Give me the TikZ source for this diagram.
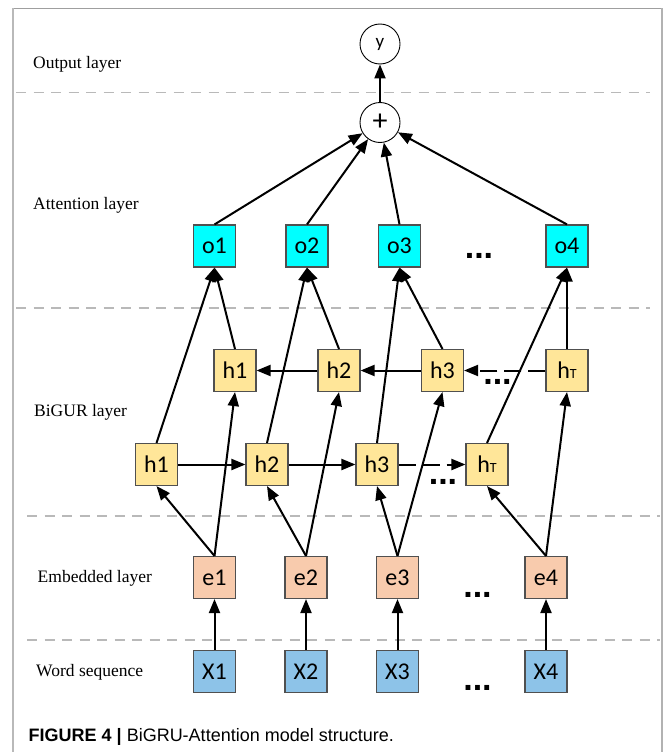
\documentclass[tikz,border=0pt]{standalone}
\usepackage{fontspec}
\setmainfont{Liberation Serif}
\newfontfamily\boxfont{Carlito}
\newfontfamily\capfont{Liberation Sans}
\usetikzlibrary{arrows.meta}
\definecolor{cyanbox}{RGB}{0,255,255}
\definecolor{hbox}{RGB}{255,230,153}
\definecolor{ebox}{RGB}{248,203,173}
\definecolor{xbox}{RGB}{141,195,232}
\definecolor{boxline}{RGB}{80,80,80}
\tikzset{
  cell/.style={draw=boxline, line width=1.1pt, minimum size=42pt, inner sep=0pt,
    font=\boxfont\fontsize{24}{24}\selectfont},
  ocell/.style={cell, fill=cyanbox},
  hcell/.style={cell, fill=hbox},
  ecell/.style={cell, fill=ebox},
  xcell/.style={cell, fill=xbox},
  opnode/.style={draw, circle, line width=0.9pt, minimum size=40pt, inner sep=0pt},
  conn/.style={line width=2pt, -{Triangle[length=14pt,width=11pt]}},
  dconn/.style={conn, dash pattern=on 17pt off 7pt},
  sep/.style={draw=gray!55, line width=1.3pt, dash pattern=on 10pt off 7.5pt},
  layerlabel/.style={anchor=west, inner sep=0pt, font=\fontsize{17.5}{18}\selectfont},
  dots/.style={anchor=base, inner sep=0pt, font=\capfont\bfseries\fontsize{34}{34}\selectfont}
}
\newcommand{\hTlabel}{h{\fontsize{14}{14}\selectfont T}}
\begin{document}
\begin{tikzpicture}[x=1pt,y=-1pt]
\useasboundingbox (0,0) rectangle (665,752);
% frame
\draw[gray!75, line width=1.4pt] (12.7,8.5) -- (662,8.5);
\draw[gray!55, line width=1.4pt] (13,8.5) -- (13,752);
\draw[gray!60, line width=1.4pt] (662,8.5) -- (662,752);
% separators
\draw[sep] (16,92.5) -- (650,92.5);
\draw[sep] (16,308) -- (650,308);
\draw[sep] (27,516) -- (660,516);
\draw[sep] (27,640) -- (660,640);
% layer labels
\node[layerlabel] (lout) at (33,64) {Output layer};
\node[layerlabel] (latt) at (33,205) {Attention layer};
\node[layerlabel] (lbig) at (34,412) {BiGUR layer};
\node[layerlabel] (lemb) at (37.5,578) {Embedded layer};
\node[layerlabel] (lword) at (36,672) {Word sequence};
% circles
\node[opnode, font=\boxfont\fontsize{19}{19}\selectfont] (yout) at (380,44) {y};
\node[opnode, font=\boxfont\fontsize{30}{30}\selectfont] (plus) at (380,122.5) {+};
% attention
\node[ocell] (o1) at (214.5,246) {o1};
\node[ocell] (o2) at (307,246) {o2};
\node[ocell] (o3) at (399.5,246) {o3};
\node[ocell] (o4) at (567,246) {o4};
% top hidden row
\node[hcell] (t1) at (235,370.5) {h1};
\node[hcell] (t2) at (339,370.5) {h2};
\node[hcell] (t3) at (442.5,370.5) {h3};
\node[hcell] (tT) at (567,370.5) {\hTlabel};
% bottom hidden row
\node[hcell] (b1) at (156.5,464.5) {h1};
\node[hcell] (b2) at (267,464.5) {h2};
\node[hcell] (b3) at (377,464.5) {h3};
\node[hcell] (bT) at (487,464.5) {\hTlabel};
% embedded
\node[ecell] (e1) at (214.5,577.5) {e1};
\node[ecell] (e2) at (306,577.5) {e2};
\node[ecell] (e3) at (397.5,577.5) {e3};
\node[ecell] (e4) at (546,577.5) {e4};
% words
\node[xcell] (x1) at (214.5,671.5) {X1};
\node[xcell] (x2) at (306,671.5) {X2};
\node[xcell] (x3) at (397.5,671.5) {X3};
\node[xcell] (x4) at (546,671.5) {X4};
% dots
\node[dots] (d1) at (479,258) {...};
\node[dots] (d2) at (497.5,384) {...};
\node[dots] (d3) at (443,484) {...};
\node[dots] (d4) at (477.5,597) {...};
\node[dots] (d5) at (477.5,690) {...};
% connectors: words -> embedded
\foreach \i in {1,2,3,4} \draw[conn] (x\i.north) -- (e\i.south);
% embedded -> hidden
\draw[conn] (e1.north) -- (b1.south);
\draw[conn] (e1.north) -- (t1.south);
\draw[conn] (e2.north) -- (b2.south);
\draw[conn] (e2.north) -- (t2.south);
\draw[conn] (e3.north) -- (b3.south);
\draw[conn] (e3.north) -- (t3.south);
\draw[conn] (e4.north) -- (bT.south);
\draw[conn] (e4.north) -- (tT.south);
% forward / backward
\draw[conn] (b1.east) -- (b2.west);
\draw[conn] (b2.east) -- (b3.west);
\draw[dconn] (b3.east) -- (bT.west);
\draw[conn] (t2.west) -- (t1.east);
\draw[conn] (t3.west) -- (t2.east);
\draw[dconn] (tT.west) -- (t3.east);
% hidden -> attention
\draw[conn] (b1.north) -- (o1.south);
\draw[conn] (t1.north) -- (o1.south);
\draw[conn] (b2.north) -- (o2.south);
\draw[conn] (t2.north) -- (o2.south);
\draw[conn] (b3.north) -- (o3.south);
\draw[conn] (t3.north) -- (o3.south);
\draw[conn] (bT.north) -- (o4.south);
\draw[conn] (tT.north) -- (o4.south);
% attention -> sum
\foreach \i in {1,2,3,4} \draw[conn] (o\i.north) -- (plus);
\draw[conn] (plus) -- (yout);
% caption
\node[anchor=west, inner sep=0pt, font=\capfont\fontsize{18}{18}\selectfont] (cap) at (28.5,737)
  {\textbf{FIGURE 4} \textbf{|} BiGRU-Attention model structure.};
\end{tikzpicture}
\end{document}
